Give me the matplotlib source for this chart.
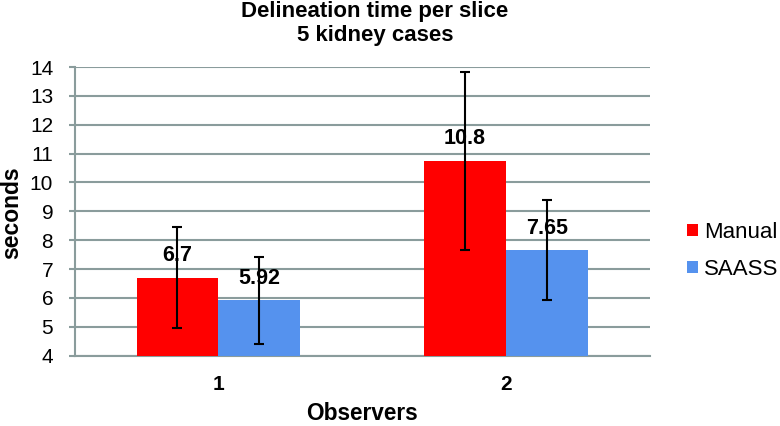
import numpy as np
import matplotlib
matplotlib.use("Agg")
import matplotlib.pyplot as plt

plt.rcParams["font.family"] = ["Liberation Sans", "DejaVu Sans"]

observers = ["1", "2"]
manual = [6.70, 10.75]
manual_err = [1.75, 3.08]
saass = [5.92, 7.65]
saass_err = [1.50, 1.73]
manual_labels = ["6.7", "10.8"]
saass_labels = ["5.92", "7.65"]

GRID = "#8a9c9c"
RED = "#ff0000"
BLUE = "#5592ee"

fig = plt.figure(figsize=(7.8, 4.26), dpi=100)
ax = fig.add_axes([0.0958, 0.165, 0.737, 0.6777])

x = np.arange(len(observers))
w = 0.285
eb = dict(ecolor="black", elinewidth=1.5, capsize=3.5, capthick=1.5)
ax.bar(x - w / 2, manual, w, color=RED, yerr=manual_err, error_kw=eb, zorder=3, label="Manual")
ax.bar(x + w / 2, saass, w, color=BLUE, yerr=saass_err, error_kw=eb, zorder=3, label="SAASS")

for xs, vals, labs in [(x - w / 2, manual, manual_labels), (x + w / 2, saass, saass_labels)]:
    for xi, v, t in zip(xs, vals, labs):
        ax.annotate(t, (xi, v), xytext=(0, 16), textcoords="offset points", ha="center", va="center",
                    fontsize=15.5, fontweight="bold", zorder=5)

ax.set_xlim(-0.5, 1.5)
ax.set_ylim(4, 14)
ax.set_yticks(range(4, 15))
ax.set_xticks(x)
ax.set_xticklabels(observers, fontsize=15, fontweight="bold")
ax.tick_params(axis="y", labelsize=15, length=4.5, width=1.5, color=GRID, pad=11)
ax.tick_params(axis="x", length=0, pad=14)
ax.yaxis.grid(True, color=GRID, linewidth=1.5, zorder=0)
ax.set_axisbelow(True)
for s in ["top", "right"]:
    ax.spines[s].set_visible(False)
for s in ["left", "bottom"]:
    ax.spines[s].set_color(GRID)
    ax.spines[s].set_linewidth(1.5)

fig.text(12 / 780, 1 - 213 / 426, "seconds", rotation=90, ha="center", va="center",
         fontsize=16.5, fontweight="bold")
ax.set_xlabel("Observers", fontsize=16.3, fontweight="bold", labelpad=6)
fig.text(375 / 780, 0.997, "Delineation time per slice\n5 kidney cases", ha="center", va="top",
         fontsize=16, fontweight="bold", linespacing=1.2)

ax.legend(loc="center left", bbox_to_anchor=(687 / 780, 0.411), bbox_transform=fig.transFigure,
          frameon=False, fontsize=16, borderpad=0, borderaxespad=0,
          handlelength=0.5, handleheight=0.5, handletextpad=0.27, labelspacing=0.73)

fig.savefig("out.png", dpi=100)
